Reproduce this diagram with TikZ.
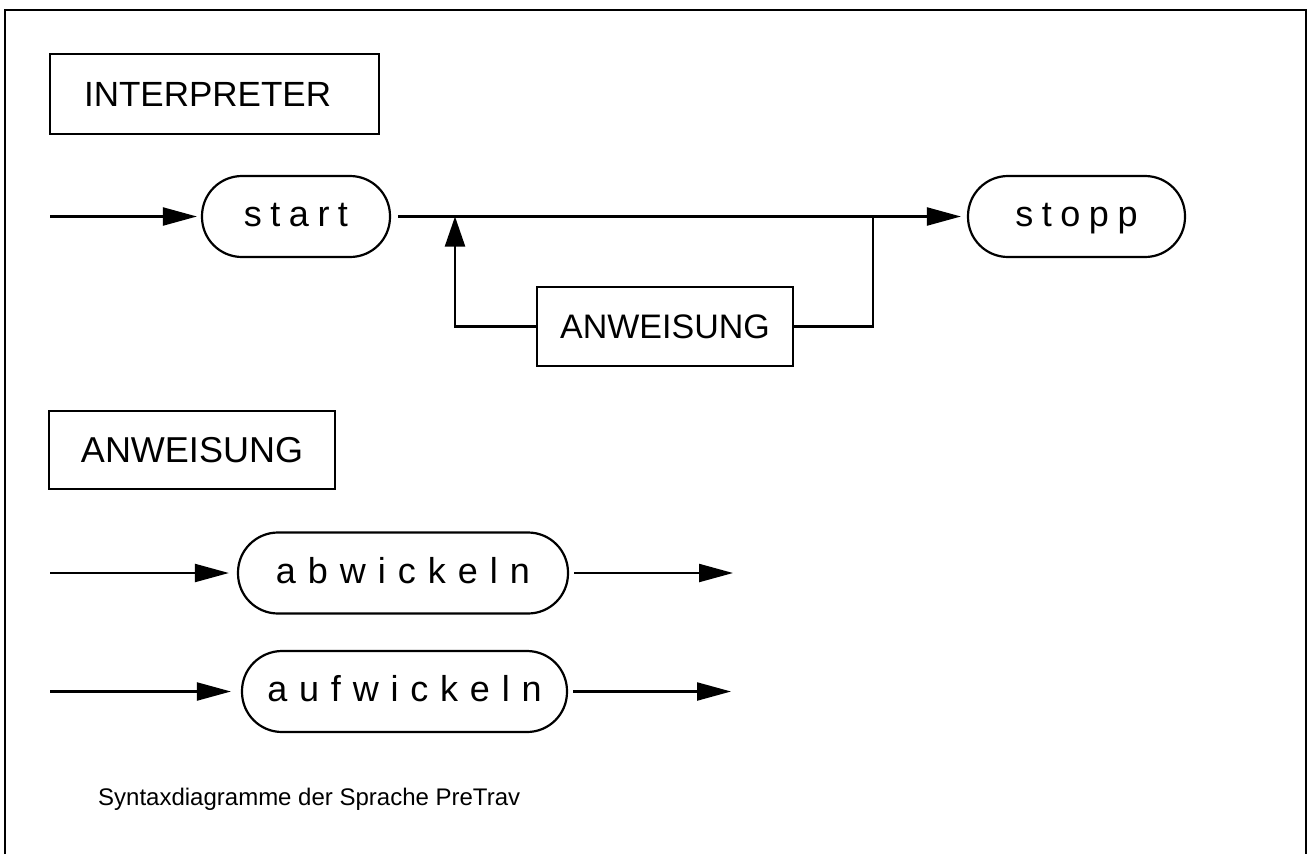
\documentclass[tikz,border=0pt]{standalone}
\usepackage{fontspec}
\setmainfont{Liberation Sans}
\usetikzlibrary{arrows.meta}
\newdimen\ltrsp
\def\spaced#1#2{\ltrsp=#1\relax\spaux#2\relax}
\def\spaux#1#2{#1\ifx\relax#2\else\kern\ltrsp\expandafter\spaux\expandafter#2\fi}
\begin{document}
\begin{tikzpicture}[x=1pt,y=-1pt,
  ln/.style={line width=2.2pt},
  arr/.style={ln,-{Triangle[length=34pt,width=18pt]}},
  uparr/.style={ln,-{Triangle[length=30pt,width=20pt]}},
  term/.style={draw,line width=2.2pt,rounded corners=40pt,minimum height=81pt,inner sep=0pt,text height=28pt,text depth=8pt,font=\fontsize{36}{40}\selectfont},
  nonterm/.style={draw,line width=2.2pt,inner sep=0pt,font=\fontsize{35}{40}\selectfont}]
\useasboundingbox (0,0) rectangle (1308,854);
\draw[line width=2.5pt] (5,854) -- (5,10) -- (1306,10) -- (1306,854);
% titles
\node[nonterm,anchor=north west,inner xsep=34pt,text width=261pt,align=left,minimum height=80pt] (interp) at (49,53) {INTERPRETER};
\node[nonterm,minimum width=286pt,minimum height=78pt,font=\fontsize{36}{40}\selectfont] (anwtitle) at (192,450) {ANWEISUNG};
% interpreter diagram
\node[term,minimum width=188pt] (start) at (296,216.5) {\spaced{8.5pt}{start}};
\node[term,minimum width=217pt] (stopp) at (1076.5,216.5) {\spaced{8.5pt}{stopp}};
\node[nonterm,minimum width=256pt,minimum height=79pt,font=\fontsize{34}{40}\selectfont] (anw) at (665,326.5) {ANWEISUNG};
\coordinate (in1) at (50,216.5);
\coordinate (jL) at (455,216.5);
\coordinate (jR) at (873,216.5);
\draw[arr,shorten >=4pt] (in1) -- (start.west);
\draw[arr,shorten <=7pt,shorten >=6pt] (start.east) -- (stopp.west);
\draw[ln] (anw.east) -| (jR);
\draw[uparr] (anw.west) -| (jL);
% anweisung diagram
\node[term,minimum width=330pt] (abw) at (403,573) {\spaced{12pt}{abwickeln}};
\node[term,minimum width=325pt] (aufw) at (404.5,691.5) {\spaced{11.8pt}{aufwickeln}};
\coordinate (a0) at (50,573);
\coordinate (a1) at (733,573);
\coordinate (b0) at (50,691.5);
\coordinate (b1) at (731,691.5);
\draw[arr,shorten >=8pt] (a0) -- (abw.west);
\draw[arr,shorten <=5pt] (abw.east) -- (a1);
\draw[arr,shorten >=10pt] (b0) -- (aufw.west);
\draw[arr,shorten <=5pt] (aufw.east) -- (b1);
% caption
\node[anchor=base west,inner sep=0pt,font=\fontsize{24}{28}\selectfont] (cap) at (98,805) {Syntaxdiagramme der Sprache PreTrav};
\end{tikzpicture}
\end{document}
